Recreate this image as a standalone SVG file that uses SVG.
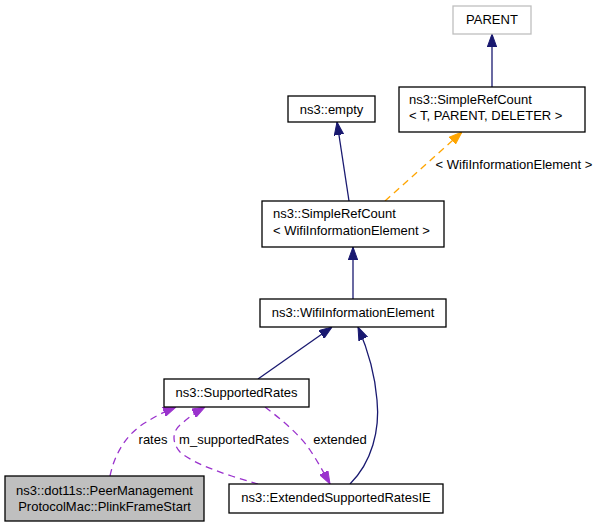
<svg xmlns="http://www.w3.org/2000/svg" width="601" height="528" viewBox="0 0 601 528">
<defs>
<style>
text{font-family:"Liberation Sans",Arial,Helvetica,sans-serif;font-size:13px;fill:#000}
.box{fill:#fff;stroke:#000;stroke-width:1.3}
.grey{fill:#fff;stroke:#bfbfbf;stroke-width:1.3}
.hl{fill:#bfbfbf;stroke:#000;stroke-width:1.3}
.c{text-anchor:middle}
.blue{fill:none;stroke:#191970;stroke-width:1.3}
.orange{fill:none;stroke:#ffa500;stroke-width:1.3;stroke-dasharray:7,5}
.purple{fill:none;stroke:#9a32cd;stroke-width:1.3;stroke-dasharray:7,5}
</style>
<marker id="ab" viewBox="0 0 13 10" refX="13" refY="5" markerWidth="13" markerHeight="10" markerUnits="userSpaceOnUse" orient="auto"><path d="M0,0.3L13,5L0,9.7z" fill="#191970" stroke="#191970"/></marker>
<marker id="ao" viewBox="0 0 13 10" refX="13" refY="5" markerWidth="13" markerHeight="10" markerUnits="userSpaceOnUse" orient="auto"><path d="M0,0.3L13,5L0,9.7z" fill="#ffa500" stroke="#ffa500"/></marker>
<marker id="ap" viewBox="0 0 13 10" refX="13" refY="5" markerWidth="13" markerHeight="10" markerUnits="userSpaceOnUse" orient="auto"><path d="M0,0.3L13,5L0,9.7z" fill="#9a32cd" stroke="#9a32cd"/></marker>
</defs>
<rect width="601" height="528" fill="#fff"/>
<g id="connectors">
<path class="blue" d="M492,87L492,34" marker-end="url(#ab)"/>
<path class="blue" d="M349,201L337,122" marker-end="url(#ab)"/>
<path class="orange" d="M385,201L462,132" marker-end="url(#ao)"/>
<text x="514" y="169" class="c">&lt; WifiInformationElement &gt;</text>
<path class="blue" d="M353,299L353,247" marker-end="url(#ab)"/>
<path class="blue" d="M258,379L332,327" marker-end="url(#ab)"/>
<path class="blue" d="M350,484C372,462 380,430 377,400C375,375 368,350 358,327" marker-end="url(#ab)"/>
<path class="purple" d="M110,476C115,452 128,432 148,421C156,416 166,411 176,407" marker-end="url(#ap)"/>
<text x="153" y="444" class="c">rates</text>
<path class="purple" d="M258,484C230,476 195,465 180,452C172,443 172,432 180,425C188,418 196,412 205,407" marker-end="url(#ap)"/>
<text x="234" y="444" class="c">m_supportedRates</text>
<path class="purple" d="M265,407C282,420 300,435 310,450C318,462 324,473 330,484" marker-end="url(#ap)"/>
<text x="340" y="444" class="c">extended</text>
</g>
<g id="node-parent">
<rect class="grey" x="453" y="6" width="78" height="28"/>
<text x="492" y="24" class="c">PARENT</text>
</g>
<g id="node-simplerefcount-t">
<rect class="box" x="399" y="87" width="186" height="45"/>
<text x="409" y="104">ns3::SimpleRefCount</text>
<text x="409" y="120">&lt; T, PARENT, DELETER &gt;</text>
</g>
<g id="node-empty">
<rect class="box" x="288" y="96" width="87" height="26"/>
<text x="331.5" y="113.5" class="c">ns3::empty</text>
</g>
<g id="node-simplerefcount-wifi">
<rect class="box" x="262" y="201" width="182" height="46"/>
<text x="273" y="218">ns3::SimpleRefCount</text>
<text x="273" y="235">&lt; WifiInformationElement &gt;</text>
</g>
<g id="node-wifiinformationelement">
<rect class="box" x="260" y="299" width="186" height="28"/>
<text x="353" y="317" class="c">ns3::WifiInformationElement</text>
</g>
<g id="node-supportedrates">
<rect class="box" x="164" y="379" width="145" height="28"/>
<text x="236.5" y="397" class="c">ns3::SupportedRates</text>
</g>
<g id="node-plinkframestart">
<rect class="hl" x="5" y="476" width="199" height="45"/>
<text x="104.5" y="495" class="c">ns3::dot11s::PeerManagement</text>
<text x="104.5" y="511" class="c">ProtocolMac::PlinkFrameStart</text>
</g>
<g id="node-extendedsupportedratesie">
<rect class="box" x="229" y="484" width="214" height="29"/>
<text x="336" y="502" class="c">ns3::ExtendedSupportedRatesIE</text>
</g>
</svg>
